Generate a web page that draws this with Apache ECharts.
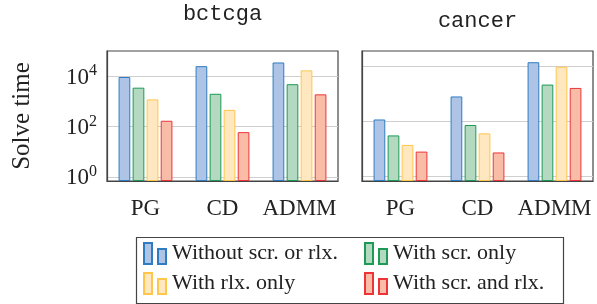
<!DOCTYPE html>
<html>
<head>
<meta charset="utf-8">
<script src="https://cdn.jsdelivr.net/npm/echarts@6/dist/echarts.min.js"></script>
<style>
  html, body { margin: 0; padding: 0; background: #fff; }
  #chart { width: 597px; height: 304px; }
</style>
</head>
<body>
<div id="chart"></div>
<script>
const methods = ['PG', 'CD', 'ADMM']
const seriesNames = ['Without scr. or rlx.', 'With scr. only', 'With rlx. only', 'With scr. and rlx.']

// solve times
const bctcgaNone = [9300, 25000, 35000]
const bctcgaScr = [3500, 2000, 4800]
const bctcgaRlx = [1200, 460, 17000]
const bctcgaBoth = [170, 60, 1900]

const cancerNone = [10.7, 28, 117]
const cancerScr = [5.5, 8.5, 46]
const cancerRlx = [3.7, 6, 97]
const cancerBoth = [2.8, 2.7, 40]

const leftTicks = [1, 100, 10000]
const rightTicks = [1, 10, 100]

const strokes = ['#2f7cc1', '#1d9a55', '#ffc64c', '#ef3439']
const fills = ['#aec4e6', '#b3d9c1', '#ffe8c0', '#f9bca7']

const serif = '"Liberation Serif", serif'
const mono = '"Liberation Mono", monospace'

const chart = echarts.init(document.getElementById('chart'))

function makeSeries(values, axisIndex) {
  return values.map((data, i) => ({
    name: seriesNames[i],
    type: 'bar',
    xAxisIndex: axisIndex,
    yAxisIndex: axisIndex,
    data: data,
    barWidth: 11.7,
    barGap: '20%',
    itemStyle: { color: fills[i], borderColor: strokes[i], borderWidth: 1 },
    emphasis: { disabled: true },
  }))
}

function xAxis(gridIndex) {
  return {
    type: 'category',
    gridIndex: gridIndex,
    data: methods,
    axisLine: { lineStyle: { color: '#444', width: 1.2 } },
    axisTick: { alignWithLabel: true, length: 9, lineStyle: { color: '#999' } },
    axisLabel: { interval: 0, hideOverlap: false, fontFamily: serif, fontSize: 23, color: '#222', margin: 16 },
  }
}

function yAxis(gridIndex, min, max, ticks, showLabels) {
  return {
    type: 'log',
    logBase: 10,
    gridIndex: gridIndex,
    min: min,
    max: max,
    startValue: min,
    axisLine: { show: true, lineStyle: { color: '#444', width: 1.2 } },
    axisTick: { inside: true, length: 3, customValues: ticks, lineStyle: { color: '#444' } },
    splitLine: { show: true, lineStyle: { color: '#cfcfcf', width: 1 } },
    axisLabel: {
      show: showLabels,
      customValues: ticks,
      margin: 10,
      formatter: (v) => '{b|10}{s|' + Math.round(Math.log10(v)) + '}',
      rich: {
        b: { fontFamily: serif, fontSize: 23, color: '#222', verticalAlign: 'bottom', lineHeight: 26 },
        s: { fontFamily: serif, fontSize: 16, color: '#222', verticalAlign: 'top', lineHeight: 26 },
      },
    },
  }
}

function legendItem(name, left, top) {
  return {
    data: [name],
    left: left,
    top: top,
    padding: 0,
    itemWidth: 22,
    itemHeight: 21,
    itemGap: 0,
    icon: 'path://M0,0H8V21H0Z M14,6H22V21H14Z',
    selectedMode: false,
    textStyle: { fontFamily: serif, fontSize: 22, color: '#222', padding: [8, 0, 0, 1] },
  }
}

const option = {
  animation: false,
  grid: [
    { left: 107, top: 51, width: 231, height: 130, show: true, borderColor: '#444', borderWidth: 1.2 },
    { left: 362, top: 51, width: 231, height: 130, show: true, borderColor: '#444', borderWidth: 1.2 },
  ],
  xAxis: [xAxis(0), xAxis(1)],
  yAxis: [
    Object.assign(yAxis(0, 0.69, 100000, leftTicks, true), {
      name: 'Solve time',
      nameLocation: 'middle',
      nameGap: 72,
      nameTextStyle: { fontFamily: serif, fontSize: 25, color: '#222' },
    }),
    yAxis(1, 0.82, 187, rightTicks, false),
  ],
  legend: [
    legendItem(seriesNames[0], 143, 242),
    legendItem(seriesNames[1], 364, 242),
    legendItem(seriesNames[2], 143, 272),
    legendItem(seriesNames[3], 364, 272),
  ],
  graphic: [
    { type: 'rect', shape: { x: 136.5, y: 237.5, width: 427, height: 66 }, style: { fill: 'none', stroke: '#444', lineWidth: 1.2 }, silent: true },
    { type: 'text', x: 222.5, y: 14, style: { text: 'bctcga', font: '22px ' + mono, fill: '#222', textAlign: 'center', textVerticalAlign: 'middle' } },
    { type: 'text', x: 477.5, y: 20.7, style: { text: 'cancer', font: '22px ' + mono, fill: '#222', textAlign: 'center', textVerticalAlign: 'middle' } },
  ],
  series: [
    ...makeSeries([bctcgaNone, bctcgaScr, bctcgaRlx, bctcgaBoth], 0),
    ...makeSeries([cancerNone, cancerScr, cancerRlx, cancerBoth], 1),
  ],
}

chart.setOption(option)
</script>
</body>
</html>
